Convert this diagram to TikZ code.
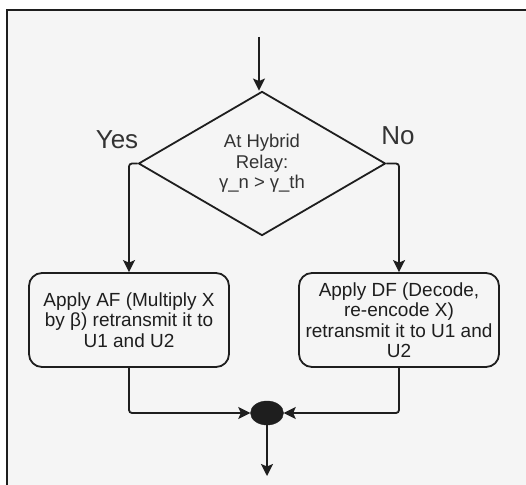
\documentclass[tikz,border=0pt]{standalone}
\usepackage{fontspec}
\setmainfont{Liberation Sans}
\usetikzlibrary{shapes.geometric,arrows.meta,positioning}
\definecolor{bgc}{HTML}{F5F5F5}
\definecolor{ink}{HTML}{1E1E1E}
\definecolor{dtext}{HTML}{333333}
\begin{document}
\begin{tikzpicture}[x=1pt,y=-1pt,
  conn/.style={draw=ink,line width=1.8pt,rounded corners=3pt},
  arr/.style={conn,-{Stealth[length=12pt,width=12pt,inset=2.5pt]}},
  procbox/.style={draw=ink,line width=1.8pt,rounded corners=13pt,minimum width=200pt,minimum height=94pt,inner sep=0pt,align=center,text=ink,font=\fontsize{19}{20.5}\selectfont},
  decision/.style={draw=ink,line width=1.8pt,shape=diamond,minimum width=247pt,minimum height=136pt,inner sep=0pt,align=center,text=dtext,font=\fontsize{18.5}{20.5}\selectfont},
  joinpt/.style={shape=ellipse,fill=ink,draw=ink,minimum width=33pt,minimum height=24pt,inner sep=0pt},
  yesno/.style={text=dtext,font=\fontsize{26}{28}\selectfont,inner sep=0pt}]
\useasboundingbox (0,0) rectangle (526,484);
\fill[white] (0,0) rectangle (526,484);
\fill[bgc] (7,10) rectangle (527,485);
\draw[ink,line width=1.2pt] (7,485) -- (7,10) -- (527,10);

\coordinate (start) at (259,37);
\node[decision] (dia) at (262,163.5) {At Hybrid\\Relay:\\γ\_n > γ\_th};
\node[yesno] (yes) at (117,140) {Yes};
\node[yesno] (no) at (398,136) {No};
\node[procbox] (af) at (129,320) {Apply AF (Multiply X\\by β) retransmit it to\\U1 and U2};
\node[procbox] (df) at (399,320) {Apply DF (Decode,\\re-encode X)\\retransmit it to U1 and\\U2};
\node[joinpt] (join) at (267,413) {};
\coordinate (stop) at (267,476);

\draw[arr] (start) -- (start |- dia.north);
\draw[arr] (dia.west) -| (af.north);
\draw[arr] (dia.east) -| (df.north);
\draw[arr] (af.south) |- (join.west);
\draw[arr] (df.south) |- (join.east);
\draw[arr] (join.south) -- (stop);
\end{tikzpicture}
\end{document}
